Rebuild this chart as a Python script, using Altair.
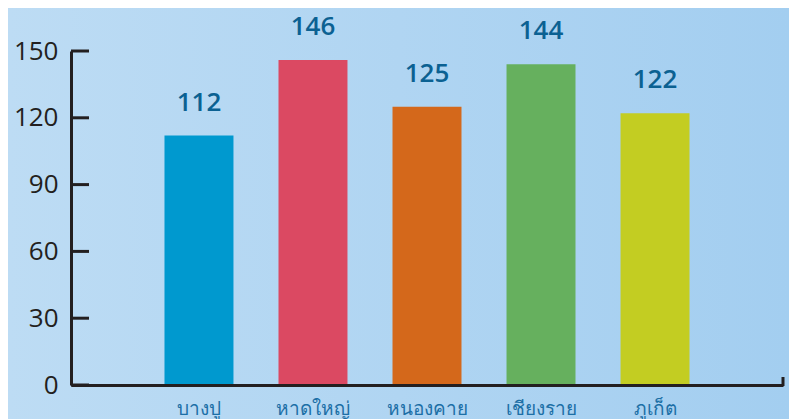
import altair as alt
import pandas as pd

categories = ["บางปู", "หาดใหญ่", "หนองคาย", "เชียงราย", "ภูเก็ต"]
values = [112, 146, 125, 144, 122]
bar_colors = ["#0099cf", "#db4962", "#d4681b", "#66b05e", "#c3cd22"]
y_ticks = [0, 30, 60, 90, 120, 150]

df = pd.DataFrame({"cat": categories, "value": values})
ticks_df = pd.DataFrame({"value": y_ticks})
one = pd.DataFrame({"a": [0]})

W, H = 712, 334

xenc = alt.X("cat:N", sort=categories, title=None,
             scale=alt.Scale(paddingInner=0.395, paddingOuter=0.82),
             axis=alt.Axis(zindex=1, domainColor="#231f20", domainWidth=3,
                           grid=False, ticks=False, labelAngle=0,
                           labelPadding=14, labelBaseline="top",
                           labelFont="Noto Sans", labelFontSize=19,
                           labelColor="#1c6fa6"))
yenc = alt.Y("value:Q", title=None,
             scale=alt.Scale(domain=[0, 150], nice=False),
             axis=alt.Axis(values=y_ticks, zindex=1, domainColor="#231f20",
                           domainWidth=3, grid=False, tickSize=0, tickWidth=0,
                           labelPadding=13, labelFont="Open Sans",
                           labelFontSize=26, labelColor="#231f20"))

bg = alt.Chart(one).mark_rect(
    fill=alt.Gradient(gradient="linear",
                      stops=[alt.GradientStop(color="#bddcf4", offset=0),
                             alt.GradientStop(color="#a3cef0", offset=1)],
                      x1=0, x2=1, y1=0, y2=0)
).encode(x=alt.value(-63), x2=alt.value(718), y=alt.value(-43), y2=alt.value(H + 40))

blob = alt.Chart(one).mark_point(filled=True, shape="circle", size=156000,
                                 color="#a9c33a", opacity=1).encode(
    x=alt.value(-281), y=alt.value(-66))

bars = alt.Chart(df).mark_bar().encode(
    x=xenc, y=yenc,
    color=alt.Color("cat:N", sort=categories, legend=None,
                    scale=alt.Scale(domain=categories, range=bar_colors)))

labels = alt.Chart(df).mark_text(
    dy=-25, baseline="alphabetic", fontSize=26, font="Open Sans",
    fontWeight=600, color="#0b6192"
).encode(x=xenc, y=yenc, text="value:Q")

tick_rules = alt.Chart(ticks_df).mark_rule(color="#231f20", strokeWidth=3).encode(
    y=yenc, x=alt.value(0), x2=alt.value(18))

end_tick = alt.Chart(one).mark_rule(color="#231f20", strokeWidth=3).encode(
    x=alt.value(W), y=alt.value(H - 8), y2=alt.value(H + 1))

chart = alt.layer(bg, blob, bars, labels, tick_rules, end_tick).properties(
    width=W, height=H,
    autosize=alt.AutoSizeParams(type="none"),
    padding={"left": 63, "top": 43, "right": 6, "bottom": 40},
    background="#b4d8f2",
).configure_view(stroke=None)

chart.save("out.html", embed_options={"renderer": "svg", "actions": False})
